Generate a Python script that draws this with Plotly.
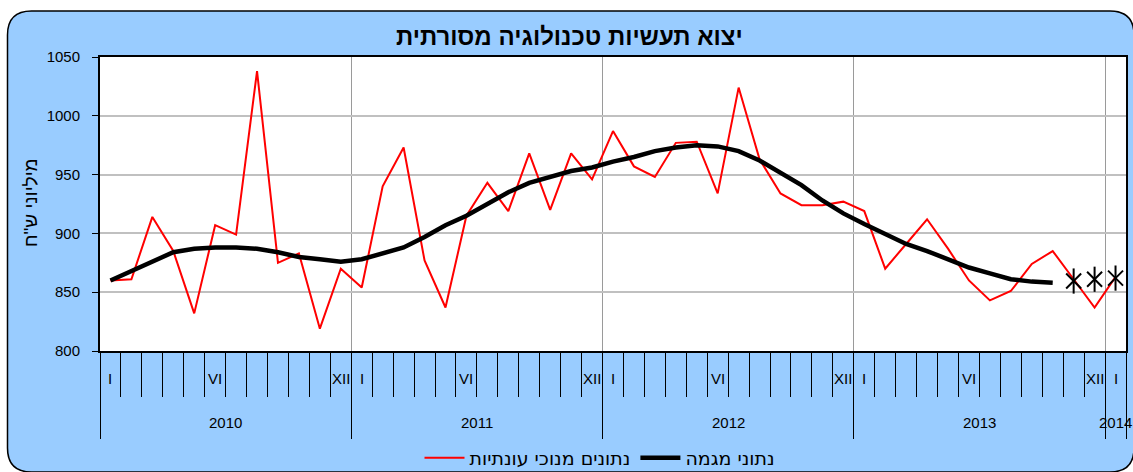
import plotly.graph_objects as go

# ---------------- data ----------------
years = ["2010", "2011", "2012", "2013", "2014"]
month_roman = ["I", "II", "III", "IV", "V", "VI", "VII", "VIII", "IX", "X", "XI", "XII"]
shown_months = ["I", "VI", "XII"]

seasonal = [
    860, 861, 914, 885, 832, 907, 899, 1038, 875, 883, 819, 870,   # 2010
    854, 940, 973, 877, 837, 915, 943, 919, 968, 920, 968, 946,    # 2011
    987, 957, 948, 977, 978, 934, 1024, 963, 934, 924, 924, 927,   # 2012
    919, 870, 891, 912, 887, 860, 843, 851, 874, 885, 861, 837,    # 2013
    863,                                                           # 2014
]
trend = [
    860, 868, 877, 884, 887, 888, 888, 887, 884, 880, 878, 876,
    878, 883, 888, 897, 907, 915, 925, 935, 943, 948, 953, 956,
    961, 965, 970, 973, 975, 974, 970, 962, 952, 941, 928, 917,
    908, 900, 891, 885, 878, 871, 866, 861, 859, 858,
]
trend_estimate = [859.5, 861, 862]

name_seasonal = "נתונים מנוכי עונתיות"
name_trend = "נתוני מגמה"
title_text = "יצוא תעשיות טכנולוגיה מסורתית"
ytitle_text = "מיליוני ש\"ח"

# ---------------- derived categories ----------------
cat_year = []
cat_month = []
for y in years:
    for m in month_roman:
        if len(cat_year) < len(seasonal):
            cat_year.append(y)
            cat_month.append(m)
xs = list(range(len(seasonal)))
n = len(xs)
trend_full = trend + [None] * (n - len(trend))
est_full = [None] * (n - len(trend_estimate)) + trend_estimate

# ---------------- geometry helpers (pixels -> paper) ----------------
W, H = 1133, 472
L, R, T, B = 100, 1126, 57, 351
PW, PH = R - L, B - T


def fx(px):
    return (px - L) / PW


def fy(py):
    return (B - py) / PH


FONT = "Liberation Sans, Arial, DejaVu Sans, sans-serif"

fig = go.Figure()
fig.add_trace(go.Scatter(x=xs, y=seasonal, mode="lines", name=name_seasonal,
                         line=dict(color="#FF0000", width=2)))
fig.add_trace(go.Scatter(x=xs, y=trend_full, mode="lines", name=name_trend,
                         line=dict(color="#000000", width=4.5)))
fig.add_trace(go.Scatter(x=xs, y=est_full, mode="markers", showlegend=False,
                         marker=dict(symbol="x-thin-open", size=15, color="#000000",
                                     line=dict(color="#000000", width=2))))
fig.add_trace(go.Scatter(x=xs, y=est_full, mode="markers", showlegend=False,
                         marker=dict(symbol="line-ns-open", size=18, color="#000000",
                                     line=dict(color="#000000", width=2))))

# year boundaries (major ticks / grid) and month boundaries (minor ticks)
year_bounds = [i - 0.5 for i in xs if cat_month[i] == "I"] + [n - 0.5]
month_bounds = [i - 0.5 for i in xs]

fig.update_xaxes(
    range=[-0.5, n - 0.5], tickmode="array", tickvals=year_bounds,
    showticklabels=False, ticks="outside", ticklen=86, tickcolor="#000000",
    tickwidth=1, showgrid=True, gridcolor="#9A9A9A", gridwidth=1,
    showline=True, linecolor="#000000", linewidth=2, mirror=True,
    zeroline=False,
    minor=dict(tickmode="array", tickvals=month_bounds, ticks="outside",
               ticklen=44, tickcolor="#000000", tickwidth=1, showgrid=False),
)
fig.update_yaxes(
    range=[800, 1050], dtick=50, tick0=800, ticks="outside", ticklen=6,
    tickcolor="#000000", showgrid=True, gridcolor="#C0C0C0", gridwidth=1.5,
    showline=True, linecolor="#000000", linewidth=2, mirror=True,
    zeroline=False, ticklabelstandoff=9,
    tickfont=dict(family=FONT, size=15, color="#000000"),
)

annotations = []
# month labels
for i in xs:
    if cat_month[i] in shown_months:
        annotations.append(dict(x=i, xref="x", y=fy(378), yref="paper",
                                xanchor="center", yanchor="middle",
                                text=cat_month[i], showarrow=False,
                                font=dict(family=FONT, size=15, color="#000000")))
# year labels
for y in years:
    idx = [i for i in xs if cat_year[i] == y]
    cx = (idx[0] + idx[-1]) / 2
    annotations.append(dict(x=cx, xref="x", y=fy(422), yref="paper", text=y,
                            xanchor="center", yanchor="middle", showarrow=False,
                            font=dict(family=FONT, size=15, color="#000000")))
# title
annotations.append(dict(x=fx(569), xref="paper", y=fy(36), yref="paper",
                        xanchor="center", yanchor="middle",
                        text="<b>" + title_text + "</b>", showarrow=False,
                        font=dict(family=FONT, size=24, color="#000000")))
# y-axis title
annotations.append(dict(x=fx(30), xref="paper", y=fy(203), yref="paper",
                        xanchor="center", yanchor="middle",
                        text=ytitle_text, textangle=-90, showarrow=False,
                        font=dict(family=FONT, size=19, color="#000000")))

# rounded blue chart background
lft, top, rgt, bot, r = 7.5, 11, 1134, 472, 24
path = (f"M {fx(lft + r)},{fy(top)} L {fx(rgt - r)},{fy(top)} "
        f"Q {fx(rgt)},{fy(top)} {fx(rgt)},{fy(top + r)} "
        f"L {fx(rgt)},{fy(bot - r)} Q {fx(rgt)},{fy(bot)} {fx(rgt - r)},{fy(bot)} "
        f"L {fx(lft + r)},{fy(bot)} Q {fx(lft)},{fy(bot)} {fx(lft)},{fy(bot - r)} "
        f"L {fx(lft)},{fy(top + r)} Q {fx(lft)},{fy(top)} {fx(lft + r)},{fy(top)} Z")
shapes = [
    dict(type="path", xref="paper", yref="paper", path=path,
         fillcolor="#99CCFF", line=dict(color="#000000", width=1.5), layer="below"),
    dict(type="rect", xref="paper", yref="paper", x0=0, x1=1, y0=0, y1=1,
         fillcolor="#FFFFFF", line=dict(width=0), layer="below"),
]

fig.update_layout(
    width=W, height=H,
    margin=dict(l=L, r=W - R, t=T, b=H - B, pad=0, autoexpand=False),
    paper_bgcolor="#FFFFFF", plot_bgcolor="rgba(0,0,0,0)",
    annotations=annotations, shapes=shapes,
    showlegend=True,
    legend=dict(orientation="h", x=fx(600), xanchor="center", y=fy(458),
                yanchor="middle", bgcolor="rgba(0,0,0,0)",
                font=dict(family="DejaVu Sans, " + FONT, size=19, color="#000000"),
                itemwidth=40, tracegroupgap=0),
    font=dict(family=FONT, color="#000000"),
)

fig.write_html("out.html", config={"displayModeBar": False},
               post_script="document.body.style.margin='0';")
